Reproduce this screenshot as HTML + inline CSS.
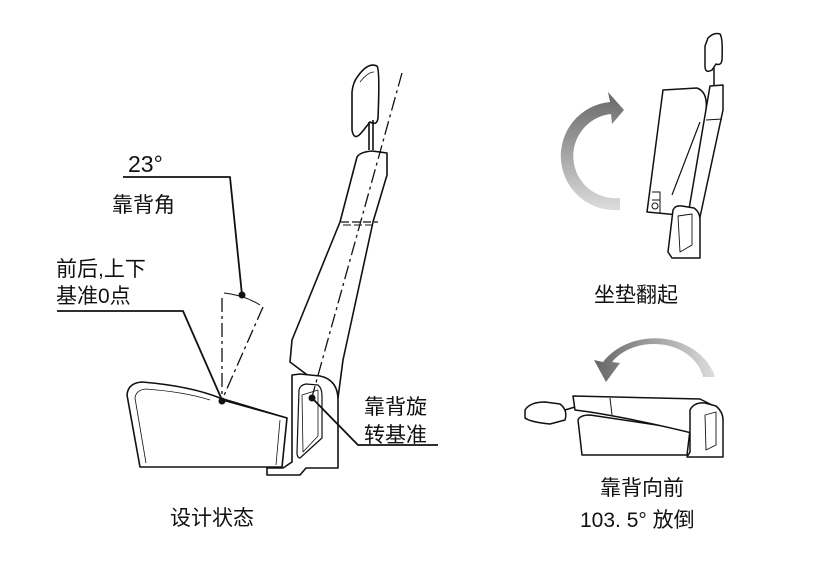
<!DOCTYPE html>
<html><head><meta charset="utf-8"><style>
html,body{margin:0;padding:0;background:#fff;}
svg{display:block;}
text{font-family:"Liberation Sans","Noto Sans CJK SC",sans-serif;fill:#111;}
</style></head><body>
<svg width="820" height="568" viewBox="0 0 820 568" xmlns="http://www.w3.org/2000/svg">
<defs>
<linearGradient id="g1" x1="0" y1="1" x2="0" y2="0"><stop offset="0" stop-color="#ddd"/><stop offset="1" stop-color="#666"/></linearGradient>
<linearGradient id="g2" x1="1" y1="0" x2="0" y2="0"><stop offset="0" stop-color="#ddd"/><stop offset="1" stop-color="#666"/></linearGradient>
</defs>
<g fill="none" stroke="#111" stroke-width="1.6" stroke-linejoin="round">
<path d="M358,76 Q368,62 377,66 Q380,70 378,118 Q377,126 370,122 L362,132 Q354,142 352,130 L352,92 Q353,82 358,76 Z"/>
<path d="M360,82 Q368,72 374,72" stroke-width="0.8"/>
<line x1="369" y1="122" x2="369" y2="150"/><line x1="373" y1="120" x2="373" y2="150"/>
<path d="M357,157 Q360,152 372,151 L387,153 L387,175 L373,222 L343,360 L338,398 L290,362 L292,340 L340,222 Z" fill="#fff"/>
<path d="M341,222 L378,222" stroke-dasharray="8 3" stroke-width="1.2"/>
<path d="M343,225 L376,225" stroke-dasharray="8 3" stroke-width="1"/>
<path d="M292,375 L292,462 L283,468 L267,468 L267,475 L300,475 L306,468 L338,468 L338,400 Q338,380 320,376 L300,374 Z" fill="#fff"/>
<path d="M299,390 Q300,385 306,384 L318,385 Q322,388 322,396 L322,438 L300,458 Q297,458 297,452 Z" stroke-width="1.2"/>
<path d="M302,395 L318,390 L318,436 L303,452 Z" stroke-width="0.8"/>
<path d="M127,395 Q128,383 142,382 Q190,386 220,398 L287,418 L282,467 L140,467 Z" fill="#fff"/>
<path d="M135,398 Q136,390 146,389 Q185,392 210,400" stroke-width="0.8"/>
<path d="M135,398 L146,463" stroke-width="0.8"/>
<path d="M280,420 L276,465" stroke-width="0.8"/>
<line x1="222" y1="400" x2="287" y2="418" stroke-width="1.4"/>
<line x1="402" y1="73" x2="312" y2="397" stroke-dasharray="14 4 3 4" stroke-width="1.3"/>
<line x1="222" y1="298" x2="222" y2="400" stroke-dasharray="14 4 3 4" stroke-width="1.3"/>
<line x1="263" y1="307" x2="222" y2="400" stroke-dasharray="14 4 3 4" stroke-width="1.3"/>
<path d="M224,293 Q244,295 260,305" stroke-width="1"/>
<path d="M123,177 L230,177 L242,295" stroke-width="1.8"/>
<path d="M57,311 L183,311 L222,400" stroke-width="1.8"/>
<path d="M312,398 L358,445 L438,445" stroke-width="1.8"/>
</g>
<g fill="#111"><circle cx="222" cy="401" r="3.5"/><circle cx="242" cy="295" r="3.5"/><circle cx="312" cy="398" r="3.5"/></g>

<g fill="none" stroke="#111" stroke-width="1.5" stroke-linejoin="round">
<path d="M708,38 Q714,32 720,34 Q723,38 722,60 Q721,66 716,64 L712,70 Q705,74 705,66 L705,46 Z"/>
<line x1="714" y1="68" x2="714" y2="85"/>
<path d="M663,90 L697,88 Q708,92 706,110 L700,217 L647,212 Z" fill="#fff"/>
<path d="M710,86 L723,85 L723,110 L700,217 L688,215 Z" fill="#fff"/>
<path d="M706,120 L722,119" stroke-width="1"/>
<path d="M700,122 L672,195" stroke-width="1.2"/>
<path d="M652,192 L660,192 L660,214 M652,200 L660,200" stroke-width="1"/>
<circle cx="655" cy="206" r="3" stroke-width="1"/>
<path d="M673,210 Q675,205 682,206 L694,208 Q700,212 700,220 L700,258 L672,258 L668,252 Z" fill="#fff"/>
<path d="M678,216 L692,214 L692,245 L680,252 Z" stroke-width="0.9"/>
<path d="M525,410 Q530,402 545,402 L560,404 Q568,410 565,420 L550,424 Q530,422 525,418 Z" fill="#fff"/>
<path d="M565,410 L575,407"/>
<path d="M578,420 Q580,415 590,415 L690,430 L687,455 L582,455 Z" fill="#fff"/>
<path d="M573,396 L700,399 L712,405 L700,435 Q640,420 590,412 L575,410 Z" fill="#fff"/>
<line x1="610" y1="398" x2="612" y2="415" stroke-width="1"/>
<path d="M690,410 Q694,402 705,403 L716,406 Q723,412 723,420 L723,457 L687,457 L690,452 Z" fill="#fff"/>
<path d="M705,415 L716,412 L716,445 L706,450 Z" stroke-width="0.9"/>
</g>
<path d="M620,210 A52,52 0 0 1 610,102 L608,92 L624,110 L612,124 L611,114 A40,40 0 0 0 620,198 Z" fill="url(#g1)"/>
<path d="M703,377 A50,40 0 0 0 612,362 L620,363 L606,382 L594,360 L603,362 A62,52 0 0 1 715,377 Z" fill="url(#g2)"/>

<g font-size="21">
<text x="128" y="172" font-size="23">23°</text>
<text x="112" y="212">靠背角</text>
<text x="56" y="276">前后,上下</text>
<text x="56" y="303">基准0点</text>
<text x="364" y="414">靠背旋</text>
<text x="364" y="442">转基准</text>
<text x="170" y="525">设计状态</text>
<text x="594" y="302">坐垫翻起</text>
<text x="600" y="495">靠背向前</text>
<text x="580" y="527">103. 5°  放倒</text>
</g>
</svg>
</body></html>
